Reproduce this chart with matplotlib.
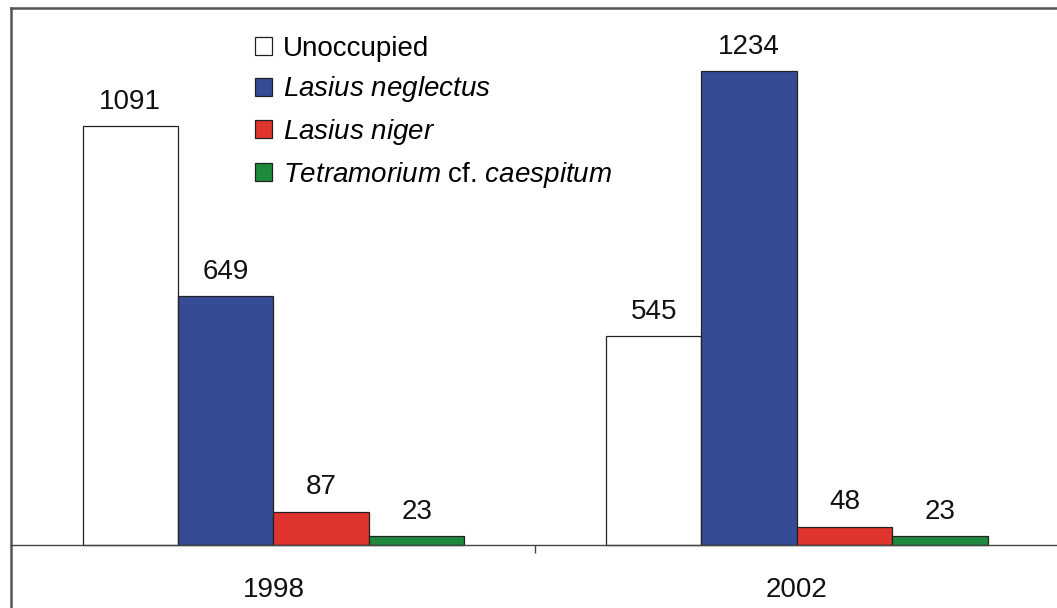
import matplotlib
matplotlib.use("Agg")
import matplotlib.pyplot as plt
from matplotlib.patches import Patch
import numpy as np

plt.rcParams["font.family"] = ["Liberation Sans", "DejaVu Sans"]
plt.rcParams["mathtext.fontset"] = "custom"
plt.rcParams["mathtext.rm"] = "Liberation Sans"
plt.rcParams["mathtext.it"] = "Liberation Sans:italic"

# data
years = ["1998", "2002"]
series = ["Unoccupied", "Lasius neglectus", "Lasius niger", "Tetramorium cf. caespitum"]
legend_labels = [
    "Unoccupied",
    r"$\it{Lasius\ neglectus}$",
    r"$\it{Lasius\ niger}$",
    r"$\it{Tetramorium}$ cf. $\it{caespitum}$",
]
values = {
    "Unoccupied": [1091, 545],
    "Lasius neglectus": [649, 1234],
    "Lasius niger": [87, 48],
    "Tetramorium cf. caespitum": [23, 23],
}
colors = ["white", "#364b95", "#e0342f", "#1f8a3c"]

W, H = 1057, 608
fig = plt.figure(figsize=(W / 100, H / 100), dpi=100)
ax = fig.add_axes([11 / W, 0, 1 - 11 / W, 1 - 8 / H])

x = np.arange(len(years))
width = 0.1824
for i, (name, col) in enumerate(zip(series, colors)):
    pos = x + (i - 1.5) * width
    bars = ax.bar(pos, values[name], width, color=col, edgecolor="#222222",
                  linewidth=0.9, zorder=2)
    for b, v in zip(bars, values[name]):
        ax.annotate(str(v), (b.get_x() + b.get_width() / 2, v),
                    xytext=(0, 8), textcoords="offset points",
                    ha="center", va="bottom", fontsize=20, color="#111111")

ax.set_xlim(-0.5014, 1.4967)
ax.set_ylim(-164, 1398)

ax.spines["right"].set_visible(False)
ax.spines["bottom"].set_position(("data", 0))
for s in ["left", "top"]:
    ax.spines[s].set_color("#555555")
    ax.spines[s].set_linewidth(1.8)
ax.spines["bottom"].set_color("#444444")
ax.spines["bottom"].set_linewidth(1.0)

ax.set_xticks([0.5])
ax.set_xticklabels([""])
ax.tick_params(axis="x", direction="out", length=6, width=1.0, color="#444444")
ax.set_yticks([])

for xi, yr in zip(x, years):
    ax.text(xi, -118, yr, ha="center", va="center", fontsize=20, color="#111111")

handles = [Patch(facecolor=c, edgecolor="#222222", linewidth=0.9) for c in colors]
ax.legend(handles, legend_labels, loc="upper left",
          bbox_to_anchor=(255 / W, 1 - 36 / H), bbox_transform=fig.transFigure,
          frameon=False, fontsize=20, handlelength=0.6, handleheight=0.6,
          handletextpad=0.4, labelspacing=0.45, borderpad=0, borderaxespad=0)

fig.savefig("out.png", dpi=100)
